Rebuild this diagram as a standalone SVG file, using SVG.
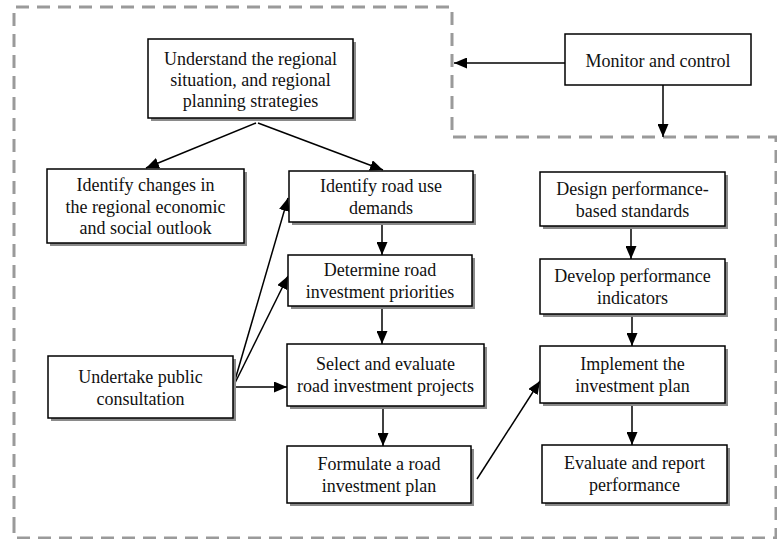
<svg xmlns="http://www.w3.org/2000/svg" width="777" height="539" viewBox="0 0 777 539">
  <style>
    .box { fill: #ffffff; stroke: #000000; stroke-width: 1.5; }
    .shadow { fill: #8a8a8a; filter: url(#soft); }
    .label { font-family: "Liberation Serif", "Times New Roman", serif; font-size: 18px; fill: #111111; text-anchor: middle; }
    .conn { fill: none; stroke: #000000; stroke-width: 1.5; marker-end: url(#arrow); }
    .frame { fill: none; stroke: #9a9a9a; stroke-width: 3; stroke-dasharray: 13 8; }
  </style>
  <defs>
    <marker id="arrow" markerUnits="userSpaceOnUse" markerWidth="13" markerHeight="11" refX="13" refY="5.5" orient="auto">
      <path d="M0,0 L13,5.5 L0,11 Z" fill="#000000"/>
    </marker>
    <filter id="soft" x="-10%" y="-10%" width="120%" height="120%">
      <feGaussianBlur stdDeviation="0.7"/>
    </filter>
  </defs>

  <rect width="777" height="539" fill="#ffffff"/>

  <!-- dashed boundary -->
  <path class="frame" d="M14,530 L14,7 L452,7 L452,137 L776,137 L776,538 L14,538 L14,530"/>

  <!-- connectors -->
  <g id="connectors">
    <path class="conn" d="M256,123 L146,168"/>
    <path class="conn" d="M258,123 L383,170"/>
    <path class="conn" d="M565,63 L454,63"/>
    <path class="conn" d="M663,85 L663,137"/>
    <path class="conn" d="M382,222 L382,255"/>
    <path class="conn" d="M382,306 L382,344"/>
    <path class="conn" d="M383,406 L383,446"/>
    <path class="conn" d="M631,226 L631,259"/>
    <path class="conn" d="M632,314 L632,346"/>
    <path class="conn" d="M632,403 L632,445"/>
    <path class="conn" d="M477,479 L540,381"/>
    <path class="conn" d="M233,387 L288,198"/>
    <path class="conn" d="M233,387 L288,276"/>
    <path class="conn" d="M233,387 L287,387"/>
  </g>

  <g id="understand">
    <rect class="shadow" x="151" y="42" width="205" height="79"/>
    <rect class="box" x="148" y="39" width="205" height="79"/>
    <text class="label" x="250.5" y="65">Understand the regional</text>
    <text class="label" x="250.5" y="86">situation, and regional</text>
    <text class="label" x="250.5" y="107">planning strategies</text>
  </g>

  <g id="monitor">
    <rect class="box" x="565" y="34" width="186" height="51"/>
    <text class="label" x="658" y="67">Monitor and control</text>
  </g>

  <g id="identify-changes">
    <rect class="shadow" x="50" y="172" width="197" height="74"/>
    <rect class="box" x="47" y="169" width="197" height="74"/>
    <text class="label" x="145.5" y="191">Identify changes in</text>
    <text class="label" x="145.5" y="213">the regional economic</text>
    <text class="label" x="145.5" y="234">and social outlook</text>
  </g>

  <g id="road-use">
    <rect class="shadow" x="292" y="174" width="184" height="51"/>
    <rect class="box" x="289" y="171" width="184" height="51"/>
    <text class="label" x="381" y="192">Identify road use</text>
    <text class="label" x="381" y="214">demands</text>
  </g>

  <g id="priorities">
    <rect class="shadow" x="291" y="258" width="184" height="51"/>
    <rect class="box" x="288" y="255" width="184" height="51"/>
    <text class="label" x="380" y="276">Determine road</text>
    <text class="label" x="380" y="298">investment priorities</text>
  </g>

  <g id="design-standards">
    <rect class="shadow" x="543" y="175" width="185" height="54"/>
    <rect class="box" x="540" y="172" width="185" height="54"/>
    <text class="label" x="632.5" y="195">Design performance-</text>
    <text class="label" x="632.5" y="217">based standards</text>
  </g>

  <g id="indicators">
    <rect class="shadow" x="543" y="262" width="185" height="55"/>
    <rect class="box" x="540" y="259" width="185" height="55"/>
    <text class="label" x="632.5" y="282">Develop performance</text>
    <text class="label" x="632.5" y="304">indicators</text>
  </g>

  <g id="consultation">
    <rect class="shadow" x="51" y="359" width="185" height="62"/>
    <rect class="box" x="48" y="356" width="185" height="62"/>
    <text class="label" x="140.5" y="383">Undertake public</text>
    <text class="label" x="140.5" y="405">consultation</text>
  </g>

  <g id="select-evaluate">
    <rect class="shadow" x="290" y="347" width="197" height="62"/>
    <rect class="box" x="287" y="344" width="197" height="62"/>
    <text class="label" x="385.5" y="370">Select and evaluate</text>
    <text class="label" x="385.5" y="392">road investment projects</text>
  </g>

  <g id="formulate">
    <rect class="shadow" x="290" y="449" width="184" height="57"/>
    <rect class="box" x="287" y="446" width="184" height="57"/>
    <text class="label" x="379" y="470">Formulate a road</text>
    <text class="label" x="379" y="492">investment plan</text>
  </g>

  <g id="implement">
    <rect class="shadow" x="543" y="349" width="185" height="57"/>
    <rect class="box" x="540" y="346" width="185" height="57"/>
    <text class="label" x="632.5" y="370">Implement the</text>
    <text class="label" x="632.5" y="392">investment plan</text>
  </g>

  <g id="evaluate-report">
    <rect class="shadow" x="545" y="448" width="185" height="58"/>
    <rect class="box" x="542" y="445" width="185" height="58"/>
    <text class="label" x="634.5" y="469">Evaluate and report</text>
    <text class="label" x="634.5" y="491">performance</text>
  </g>
</svg>
